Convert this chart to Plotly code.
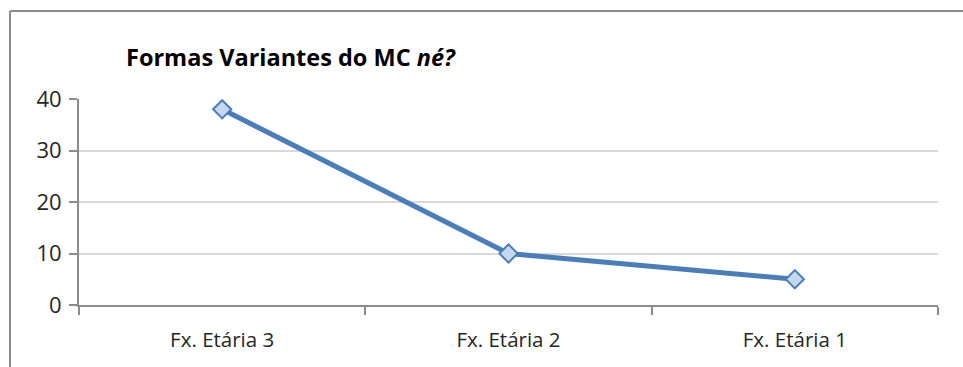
import plotly.graph_objects as go

# Age-band categories and counts of the "né?" discourse-marker variants
categories = ["Fx. Etária 3", "Fx. Etária 2", "Fx. Etária 1"]
values = [38, 10, 5]
y_ticks = [0, 10, 20, 30, 40]

W, H = 963, 367
L, R, T, B = 79, 25, 99, 62
pw, ph = W - L - R, H - T - B

def px_x(x):
    return (x - L) / pw

def px_y(y):
    return (H - B - y) / ph

font_family = "Open Sans, sans-serif"
line_blue = "#4A7EBB"

fig = go.Figure(
    go.Scatter(
        x=categories,
        y=values,
        mode="lines+markers",
        line=dict(color=line_blue, width=5),
        marker=dict(symbol="diamond", size=14, color="#C6D8F0",
                    line=dict(color=line_blue, width=2)),
        hoverinfo="x+y",
    )
)

fig.update_layout(
    width=W, height=H,
    margin=dict(l=L, r=R, t=T, b=B),
    paper_bgcolor="white", plot_bgcolor="white",
    showlegend=False,
    font=dict(family=font_family, size=20, color="#262626"),
    xaxis=dict(
        type="category", range=[-0.5, 2.5],
        showline=True, linecolor="#8C8C8C", linewidth=2,
        ticks="outside", tickson="boundaries", ticklen=8,
        tickcolor="#8C8C8C", tickwidth=2,
        showgrid=False, zeroline=False,
        tickfont=dict(size=20.5, family=font_family, color="#262626"),
        ticklabelstandoff=15,
    ),
    yaxis=dict(
        range=[0, 40], tickvals=y_ticks,
        showline=True, linecolor="#8C8C8C", linewidth=2,
        ticks="outside", ticklen=8, tickcolor="#8C8C8C", tickwidth=2,
        showgrid=True, gridcolor="#D9D9D9", gridwidth=2,
        zeroline=False,
        tickfont=dict(size=22, family=font_family, color="#262626"),
        ticklabelstandoff=3,
    ),
    shapes=[
        # chart frame: top and left edges
        dict(type="line", xref="paper", yref="paper",
             x0=px_x(10), x1=px_x(W), y0=px_y(11), y1=px_y(11),
             line=dict(color="#8C8C8C", width=2)),
        dict(type="line", xref="paper", yref="paper",
             x0=px_x(10), x1=px_x(10), y0=px_y(11), y1=px_y(H),
             line=dict(color="#8C8C8C", width=2)),
    ],
    annotations=[
        dict(text="<b>Formas Variantes do MC <i>né?</i></b>",
             xref="paper", yref="paper", x=px_x(124), y=px_y(57),
             xanchor="left", yanchor="middle", showarrow=False,
             font=dict(size=23.5, family=font_family, color="#000000")),
    ],
)

fig.write_html("out.html")
